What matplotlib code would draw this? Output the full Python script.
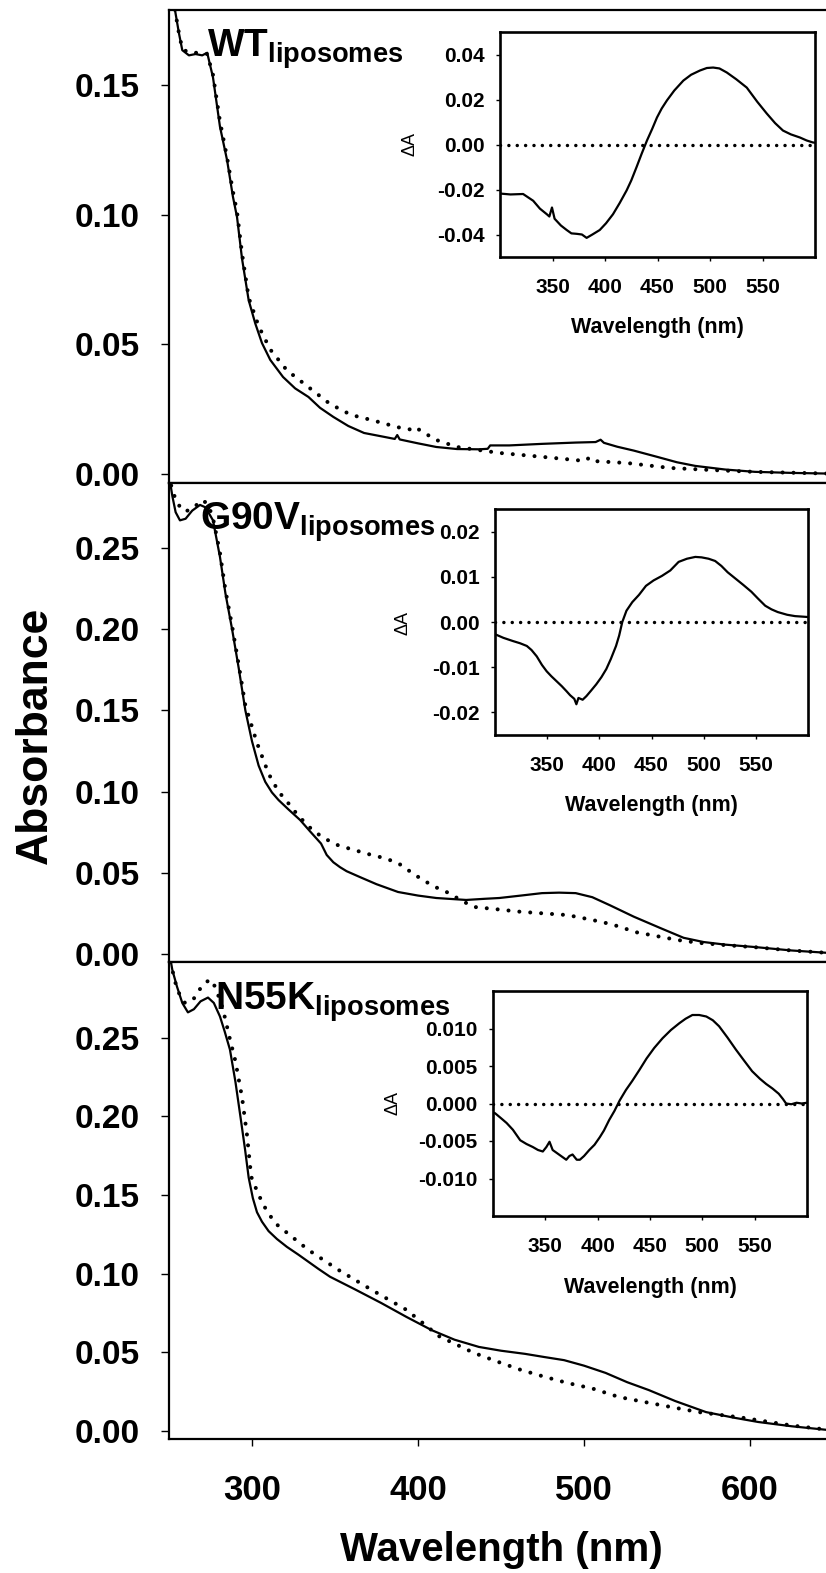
import matplotlib
matplotlib.use("Agg")
import matplotlib.pyplot as plt

plt.rcParams['font.family'] = ['Liberation Sans', 'DejaVu Sans']
plt.rcParams['font.weight'] = 'bold'
plt.rcParams['mathtext.fontset'] = 'custom'
plt.rcParams['mathtext.bf'] = 'Liberation Sans:bold'
plt.rcParams['mathtext.rm'] = 'Liberation Sans'

# ---------------- absorbance spectra (main panels) ----------------
wt_solid_nm = [251, 253.6, 256, 258, 262, 266, 270, 273, 276.5, 280.7, 285, 288.5, 291, 294, 298,
               302, 306, 311, 318.7, 326, 334, 341, 349, 358, 367.5, 378, 386, 387.5, 389, 400, 411,
               423.5, 437, 442, 443.5, 455, 474.7, 495, 507, 510, 512, 520, 530, 544, 556, 567, 585,
               603, 625, 650]
wt_solid_a = [0.19, 0.179, 0.170, 0.1635, 0.1615, 0.162, 0.1615, 0.1625, 0.153, 0.134, 0.121, 0.107,
              0.099, 0.083, 0.067, 0.058, 0.0505, 0.044, 0.0374, 0.033, 0.0297, 0.0255, 0.022,
              0.0185, 0.0158, 0.0145, 0.0135, 0.0150, 0.0133, 0.0118, 0.0104, 0.0096, 0.0095,
              0.0097, 0.0110, 0.0110, 0.0116, 0.0121, 0.0123, 0.0132, 0.0120, 0.0105, 0.0090,
              0.0066, 0.0045, 0.0031, 0.0017, 0.0008, 0.0004, 0.0001]
wt_dot_nm = [251, 253.6, 256, 258, 262, 266, 270, 273, 276.5, 280.7, 285, 288.5, 291, 294, 298, 304,
             311, 321, 334, 347, 359.6, 372, 388, 395, 398, 402, 411, 423.5, 449, 474.7, 500.6, 503,
             505, 526, 552, 577, 603, 650]
wt_dot_a = [0.19, 0.179, 0.170, 0.164, 0.1625, 0.1625, 0.1625, 0.162, 0.154, 0.136, 0.122, 0.109,
            0.101, 0.085, 0.068, 0.057, 0.048, 0.040, 0.0335, 0.027, 0.0228, 0.0208, 0.018, 0.0172,
            0.0182, 0.0165, 0.0131, 0.0104, 0.0081, 0.0066, 0.005, 0.0062, 0.005, 0.0042, 0.0023,
            0.0015, 0.0008, 0.0001]

g90v_solid_nm = [250, 252, 254, 256.6, 260, 264, 268.7, 272, 276.5, 280.7, 284, 288, 292, 296, 300,
                 304, 308, 312, 316, 322, 329, 335, 341.6, 345, 349, 353, 357, 365, 375, 388, 400,
                 411, 429, 440, 449, 462, 474.7, 485, 495, 505, 515.7, 530, 546, 560, 572, 585, 603,
                 625, 650]
g90v_solid_a = [0.295, 0.282, 0.272, 0.267, 0.268, 0.273, 0.2765, 0.275, 0.267, 0.2445, 0.222,
                0.200, 0.176, 0.150, 0.131, 0.116, 0.106, 0.0995, 0.0948, 0.089, 0.0825, 0.0755,
                0.068, 0.061, 0.0565, 0.0535, 0.051, 0.0474, 0.043, 0.0382, 0.036, 0.0345, 0.0333,
                0.034, 0.0345, 0.036, 0.0375, 0.0378, 0.0375, 0.035, 0.030, 0.023, 0.016, 0.010,
                0.0074, 0.0058, 0.0043, 0.0022, 0.0005]
g90v_dot_nm = [250, 252, 255, 258, 262, 266, 270.5, 274, 277, 280.7, 284, 288, 292, 296, 303, 310,
               316, 321, 328, 336.7, 344, 351.8, 360, 372, 380, 388, 395, 403, 411, 418.7, 426,
               433.7, 448, 462, 476, 490, 500, 511, 521, 531, 544, 556.6, 570, 585, 603, 625, 650]
g90v_dot_a = [0.295, 0.285, 0.278, 0.273, 0.273, 0.276, 0.2795, 0.276, 0.266, 0.247, 0.224, 0.202,
              0.178, 0.153, 0.130, 0.111, 0.100, 0.094, 0.085, 0.076, 0.071, 0.067, 0.0645, 0.061,
              0.059, 0.056, 0.051, 0.0455, 0.041, 0.0375, 0.033, 0.029, 0.0275, 0.026, 0.025, 0.024,
              0.022, 0.0197, 0.017, 0.0135, 0.011, 0.0086, 0.0068, 0.0055, 0.0042, 0.0022, 0.0005]

n55k_solid_nm = [250, 252, 254.8, 258, 261.4, 265, 269, 273.5, 277, 280.7, 283.5, 286.7, 290, 293,
                 295.8, 298, 300.5, 303, 306, 310, 315, 321, 328, 334, 340, 347, 362, 377.7, 393,
                 408.4, 422, 436.7, 450, 464.5, 476, 488, 500, 513, 526, 539, 555, 573.5, 590, 605,
                 625, 650]
n55k_solid_a = [0.305, 0.293, 0.2824, 0.272, 0.266, 0.268, 0.273, 0.2754, 0.272, 0.2634, 0.254,
                0.2424, 0.222, 0.200, 0.179, 0.161, 0.148, 0.139, 0.133, 0.127, 0.122, 0.117,
                0.112, 0.1075, 0.103, 0.098, 0.090, 0.0814, 0.0725, 0.064, 0.058, 0.0534, 0.051,
                0.049, 0.047, 0.045, 0.0415, 0.0369, 0.031, 0.026, 0.019, 0.012, 0.0085, 0.0057,
                0.003, 0.0003]
n55k_dot_nm = [250, 252, 255, 259.6, 264.5, 270, 274.7, 278, 282.5, 286.7, 290, 294, 297, 299.5,
               304, 308.5, 314, 321, 334, 352, 372, 393, 413, 433.7, 448, 462, 476, 490, 505, 521,
               536, 552, 569, 580, 595, 610, 625, 650]
n55k_dot_a = [0.305, 0.293, 0.280, 0.272, 0.274, 0.283, 0.287, 0.282, 0.268, 0.249, 0.235, 0.212,
              0.188, 0.1616, 0.150, 0.1406, 0.132, 0.126, 0.115, 0.1024, 0.0897, 0.077, 0.060,
              0.0496, 0.044, 0.0388, 0.0345, 0.0305, 0.027, 0.0216, 0.0185, 0.0153, 0.012, 0.0105,
              0.0085, 0.006, 0.0035, 0.0004]

# ---------------- difference spectra (insets) ----------------
wt_diff_nm = [300, 310, 322, 331.6, 338, 344.6, 347, 349.5, 352, 354, 358, 363.5, 368, 373, 378,
              382.5, 388, 395, 401, 407.6, 414, 420.6, 425, 430, 435, 440, 445, 449.5, 454, 459,
              466, 474.6, 482, 490.5, 497, 503, 509, 516, 525, 535, 545, 554, 562, 569.5, 577,
              585.7, 592, 598, 600]
wt_diff = [-0.0218, -0.0222, -0.0220, -0.025, -0.0285, -0.031, -0.032, -0.028, -0.033, -0.034,
           -0.036, -0.038, -0.0395, -0.0397, -0.040, -0.0415, -0.040, -0.038, -0.035, -0.031,
           -0.026, -0.0204, -0.016, -0.0101, -0.004, 0.0018, 0.007, 0.012, 0.016, 0.0196, 0.024,
           0.0284, 0.031, 0.0329, 0.034, 0.0342, 0.0338, 0.032, 0.029, 0.0253, 0.019, 0.0138,
           0.0095, 0.0062, 0.0045, 0.0031, 0.0018, 0.0009, 0.0008]

g90v_diff_nm = [300, 308, 317, 324, 330.5, 335, 340, 345, 349.5, 354, 359, 364, 368.5, 372, 376,
                378, 380, 384, 387.6, 392, 397, 402, 406.7, 411, 416, 419, 422, 426, 431.6, 438,
                444.7, 452, 460, 468, 476, 484, 492, 498, 504.7, 511, 517, 523, 530.5, 538, 545.7,
                552, 559, 565, 571, 580, 587.6, 594, 600]
g90v_diff = [-0.0027, -0.0035, -0.0042, -0.0047, -0.0053, -0.0062, -0.0076, -0.0095, -0.0109,
             -0.0120, -0.0131, -0.0142, -0.0153, -0.0162, -0.0170, -0.0182, -0.0168, -0.0172,
             -0.0164, -0.0152, -0.0138, -0.0122, -0.0104, -0.0082, -0.0053, -0.0030, 0.0,
             0.0025, 0.0044, 0.0060, 0.008, 0.0092, 0.0102, 0.0114, 0.0133, 0.0140, 0.0144,
             0.0143, 0.014, 0.0135, 0.0124, 0.0110, 0.0096, 0.0082, 0.0067, 0.0052, 0.0036,
             0.0028, 0.0022, 0.0016, 0.0013, 0.0012, 0.0011]

n55k_diff_nm = [300, 302, 308, 313, 319, 326, 332, 338, 343, 347.6, 351, 354, 357, 361, 365, 370,
                373, 376, 380, 383, 387, 392, 397, 402, 406, 411, 416, 421, 427, 433, 440, 446.7,
                454, 462, 470, 478, 484, 490.5, 497, 503.8, 510, 516, 524, 532, 540, 547.6, 555,
                561, 567, 573, 577, 580, 585, 590, 595, 600]
n55k_diff = [-0.0012, -0.0013, -0.0020, -0.0026, -0.0035, -0.0049, -0.0054, -0.0058, -0.0062,
             -0.0064, -0.0058, -0.0051, -0.0062, -0.0066, -0.0070, -0.0075, -0.0070, -0.0068,
             -0.0075, -0.0075, -0.0070, -0.0062, -0.0055, -0.0045, -0.0036, -0.0022, -0.0010,
             0.0004, 0.0018, 0.003, 0.0045, 0.006, 0.0074, 0.0087, 0.0098, 0.0107, 0.0113, 0.0118,
             0.0118, 0.0116, 0.0111, 0.0103, 0.0088, 0.0072, 0.0057, 0.0043, 0.0033, 0.0026,
             0.0020, 0.0013, 0.0006, 0.0, -0.0001, 0.0001, 0.0, 0.0001]

panel_names = ['WT', 'G90V', 'N55K']
main_yticks = [[0.00, 0.05, 0.10, 0.15],
               [0.00, 0.05, 0.10, 0.15, 0.20, 0.25],
               [0.00, 0.05, 0.10, 0.15, 0.20, 0.25]]
inset_yticks = [[-0.04, -0.02, 0.00, 0.02, 0.04],
                [-0.02, -0.01, 0.00, 0.01, 0.02],
                [-0.010, -0.005, 0.000, 0.005, 0.010]]
inset_ytick_fmt = ['{:.2f}', '{:.2f}', '{:.3f}']
x_ticks = [300, 400, 500, 600]
inset_xticks = [350, 400, 450, 500, 550]

W, H = 826, 1573
fig = plt.figure(figsize=(W / 100, H / 100), dpi=100)


def rect(left, top, right, bottom):
    return [left / W, 1 - bottom / H, (right - left) / W, (bottom - top) / H]


main_boxes = [(169, 10, 833, 483), (169, 483, 833, 962), (169, 962, 833, 1439)]
main_ylims = [(-0.0035, 0.179), (-0.0049, 0.290), (-0.0051, 0.298)]
inset_boxes = [(500, 32, 815, 257), (495, 509, 808, 735), (493, 991, 807, 1216)]
inset_ylims = [(-0.05, 0.05), (-0.025, 0.025), (-0.015, 0.015)]
label_pos = [(207, 57), (200, 530), (215, 1010)]
dA_pos = [(410, 144), (403, 623), (393, 1103)]

solid_sets = [(wt_solid_nm, wt_solid_a), (g90v_solid_nm, g90v_solid_a), (n55k_solid_nm, n55k_solid_a)]
dot_sets = [(wt_dot_nm, wt_dot_a), (g90v_dot_nm, g90v_dot_a), (n55k_dot_nm, n55k_dot_a)]
diff_sets = [(wt_diff_nm, wt_diff), (g90v_diff_nm, g90v_diff), (n55k_diff_nm, n55k_diff)]

dotted = (0, (0.01, 2.7))

for i in range(3):
    ax = fig.add_axes(rect(*main_boxes[i]))
    ax.plot(*solid_sets[i], color='black', lw=1.6, solid_joinstyle='round')
    ax.plot(*dot_sets[i], color='black', lw=2.9, linestyle=dotted, dash_capstyle='round')
    ax.set_xlim(250, 650)
    ax.set_ylim(*main_ylims[i])
    ax.set_yticks(main_yticks[i])
    ax.set_yticklabels(['{:.2f}'.format(v) for v in main_yticks[i]])
    for s in ax.spines.values():
        s.set_linewidth(1.6)
    ax.tick_params(axis='y', direction='out', length=6, width=1, pad=15, labelsize=24)
    if i == 2:
        ax.set_xticks(x_ticks)
        ax.tick_params(axis='x', direction='out', length=5, width=1, pad=20, labelsize=25)
    else:
        ax.set_xticks([])
    for lab in ax.get_yticklabels() + ax.get_xticklabels():
        lab.set_fontweight('bold')

    lx, ly = label_pos[i]
    fig.text(lx / W, 1 - ly / H, r'$\mathbf{%s}_{\mathbf{liposomes}}$' % panel_names[i],
             fontsize=28, ha='left', va='baseline')

    # inset: difference spectrum
    ins = fig.add_axes(rect(*inset_boxes[i]))
    ins.set_zorder(5)
    ins.plot(*diff_sets[i], color='black', lw=1.6)
    ins.axhline(0, color='black', lw=2.5, linestyle=(0, (0.01, 2.4)), dash_capstyle='round')
    ins.set_xlim(300, 600)
    ins.set_ylim(*inset_ylims[i])
    ins.set_xticks(inset_xticks)
    ins.set_yticks(inset_yticks[i])
    ins.set_yticklabels([inset_ytick_fmt[i].format(v) for v in inset_yticks[i]])
    for s in ins.spines.values():
        s.set_linewidth(1.9)
    ins.tick_params(axis='y', direction='out', length=3, width=1, pad=8, labelsize=15)
    ins.tick_params(axis='x', direction='out', length=3, width=1, pad=12, labelsize=15)
    for lab in ins.get_yticklabels() + ins.get_xticklabels():
        lab.set_fontweight('bold')
    l, t, r, b = inset_boxes[i]
    fig.text((l + r) / 2 / W, 1 - (b + 71) / H, 'Wavelength (nm)', fontsize=15.5,
             fontweight='bold', ha='center', va='center')
    dx, dy = dA_pos[i]
    fig.text(dx / W, 1 - dy / H, '\u0394A', fontsize=13, fontweight='normal',
             rotation=90, ha='center', va='center')

fig.text(35 / W, 1 - 735 / H, 'Absorbance', fontsize=32, fontweight='bold',
         rotation=90, ha='center', va='center')
fig.text(501 / W, 1 - 1550 / H, 'Wavelength (nm)', fontsize=29, fontweight='bold',
         ha='center', va='center')

fig.savefig('out.png', dpi=100, facecolor='white')
